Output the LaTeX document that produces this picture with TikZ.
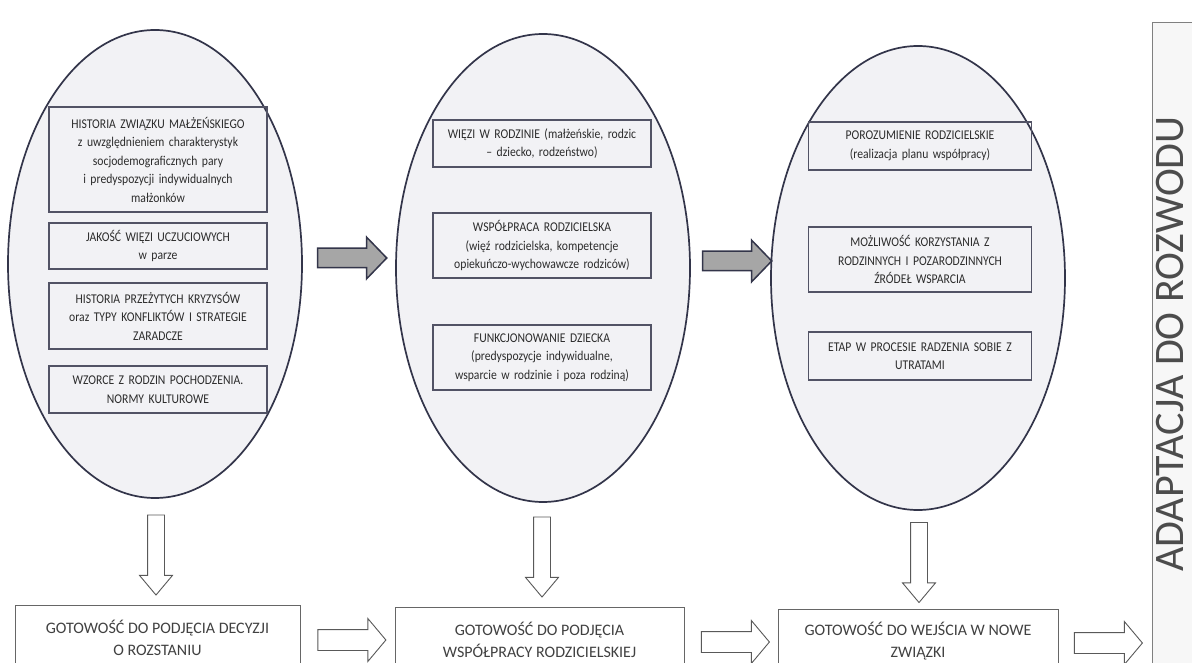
\documentclass[tikz,border=0pt]{standalone}
\usepackage{fontspec}
\setmainfont{Carlito}
\newfontfamily\itemfont[FakeStretch=0.87]{Carlito}
\usepackage{tikz}
\usetikzlibrary{shapes.geometric,shapes.arrows}
\definecolor{rim}{HTML}{33354A}
\definecolor{egg}{HTML}{F2F2F5}
\definecolor{ink}{HTML}{2C2C2C}
\tikzstyle{oval} = [ellipse, draw=rim, line width=1.7pt, fill=egg, minimum width=294pt, minimum height=468pt]
\tikzstyle{item} = [draw=rim!85, line width=1.1pt, text width=214pt, inner xsep=2pt, inner ysep=2pt, align=center, text=ink, font=\itemfont\fontsize{13.4}{18.5}\selectfont]
\tikzstyle{goal} = [draw=black!60, line width=0.9pt, fill=white, anchor=north, minimum height=64pt, align=center, text=ink!90, font=\fontsize{16}{22}\selectfont]
\tikzstyle{bigarrow} = [single arrow, draw=rim, line width=1.5pt, fill=black!35, inner sep=9pt, single arrow head extend=11pt, single arrow tip angle=92, minimum height=69pt]
\tikzstyle{openarrow} = [single arrow, draw=black!65, line width=0.9pt, fill=white, inner sep=10pt, single arrow head extend=11pt, single arrow tip angle=100, minimum height=68pt]
\tikzstyle{downarrow} = [openarrow, inner sep=8pt, single arrow head extend=8pt, single arrow tip angle=80, minimum height=80pt, shape border rotate=270]

\begin{document}
\begin{tikzpicture}[x=1pt, y=-1pt]
	\useasboundingbox (0,0) rectangle (1192,663);
	\clip (0,0) rectangle (1192,663);
	\fill[white] (0,0) rectangle (1192,663);

	\node[oval] (e1) at (155,264) {};
	\node[oval] (e2) at (543,268) {};
	\node[oval, minimum height=464pt] (e3) at (918,278) {};

	\node[item, minimum height=105pt] (h1) at (158,159.5) {HISTORIA ZWIĄZKU MAŁŻEŃSKIEGO\\ z uwzględnieniem charakterystyk\\ socjodemograficznych pary\\ i predyspozycji indywidualnych\\ małżonków};
	\node[item, minimum height=46pt] (h2) at (158,246) {JAKOŚĆ WIĘZI UCZUCIOWYCH\\ w parze};
	\node[item, minimum height=66pt] (h3) at (158,316) {HISTORIA PRZEŻYTYCH KRYZYSÓW\\ oraz TYPY KONFLIKTÓW I STRATEGIE\\ ZARADCZE};
	\node[item, minimum height=47pt] (h4) at (158,389.5) {WZORCE Z RODZIN POCHODZENIA.\\ NORMY KULTUROWE};

	\node[item, minimum height=47pt] (w1) at (542,143.5) {WIĘZI W RODZINIE (małżeńskie, rodzic\\ – dziecko, rodzeństwo)};
	\node[item, minimum height=65pt] (w2) at (542,245.5) {WSPÓŁPRACA RODZICIELSKA\\ (więź rodzicielska, kompetencje\\ opiekuńczo-wychowawcze rodziców)};
	\node[item, minimum height=65pt] (w3) at (542,357.5) {FUNKCJONOWANIE DZIECKA\\ (predyspozycje indywidualne,\\ wsparcie w rodzinie i poza rodziną)};

	\node[item, text width=219pt, minimum height=48pt] (p1) at (920,146) {POROZUMIENIE RODZICIELSKIE\\ (realizacja planu współpracy)};
	\node[item, text width=219pt, minimum height=65pt] (p2) at (920,259.5) {MOŻLIWOŚĆ KORZYSTANIA Z\\ RODZINNYCH I POZARODZINNYCH\\ ŹRÓDEŁ WSPARCIA};
	\node[item, text width=219pt, minimum height=48pt] (p3) at (920,356) {ETAP W PROCESIE RADZENIA SOBIE Z\\ UTRATAMI};

	\node[bigarrow] (g1) at (347.5,258) {};
	\node[bigarrow] (g2) at (732.5,261) {};

	\node[downarrow] (d1) at (156,550) {};
	\node[downarrow] (d2) at (542,552) {};
	\node[downarrow] (d3) at (919,557.5) {};

	\node[goal, minimum width=285pt] (r1) at (157.5,605) {GOTOWOŚĆ DO PODJĘCIA DECYZJI\\ O ROZSTANIU};
	\node[goal, minimum width=289pt] (r2) at (539.5,607) {GOTOWOŚĆ DO PODJĘCIA\\ WSPÓŁPRACY RODZICIELSKIEJ};
	\node[goal, minimum width=280pt] (r3) at (918,609) {GOTOWOŚĆ DO WEJŚCIA W NOWE\\ ZWIĄZKI};

	\node[openarrow] (o1) at (347.5,640) {};
	\node[openarrow] (o2) at (731,642) {};
	\node[openarrow] (o3) at (1104,643) {};

	\node[draw=black!50, line width=0.8pt, fill=black!3, anchor=north west, minimum width=60pt, minimum height=660pt] (side) at (1152,22) {};
	\node[rotate=90, text=black!70, font=\fontsize{42}{42}\selectfont] (adapt) at (1170,344) {ADAPTACJA DO ROZWODU};
\end{tikzpicture}
\end{document}
